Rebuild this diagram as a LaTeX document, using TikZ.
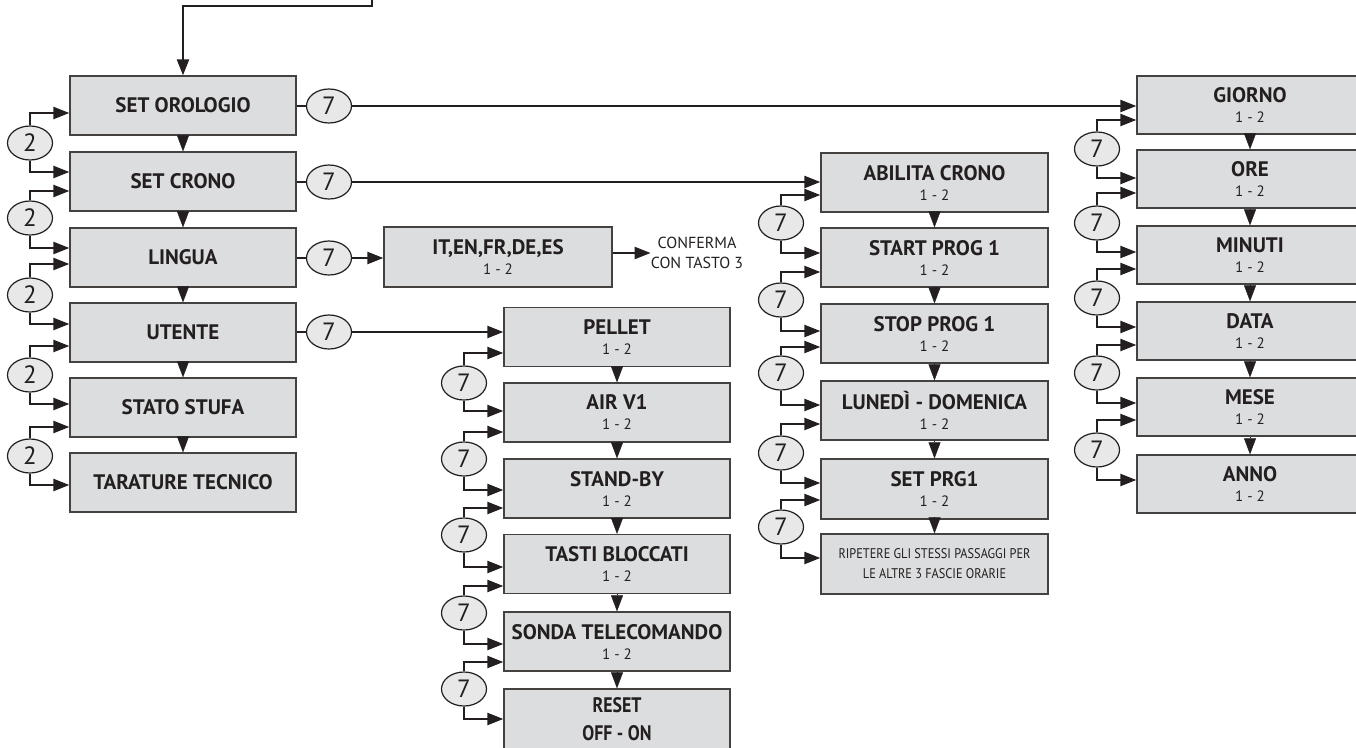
\documentclass[tikz,border=0pt]{standalone}
\usepackage{fontspec}
\usepackage{graphicx}
\setmainfont{PT Sans}
\usetikzlibrary{arrows.meta,shapes.geometric,calc}
\definecolor{ink}{HTML}{231F20}
\definecolor{boxfill}{HTML}{DCDDDE}
\definecolor{ovfill}{HTML}{E8E8E9}
\tikzset{
  box/.style={draw=ink!85, line width=1.3pt, fill=boxfill, minimum width=226pt,
    minimum height=59pt, inner sep=0pt, align=center, text=ink,
    font=\fontsize{15}{20}\selectfont},
  key/.style={ellipse, draw=ink, line width=1.2pt, fill=ovfill, minimum width=45pt,
    minimum height=34pt, inner sep=0pt, text=ink, font=\fontsize{25}{25}\selectfont},
  arr/.style={draw=ink, line width=2.3pt, -{Triangle[length=16pt,width=12pt]}},
  ln/.style={draw=ink, line width=2.3pt},
  downtri/.style={draw=ink, line width=0.4pt, -{Triangle[length=16pt,width=12pt]}},
}
\newcommand\ttl[1]{{\fontsize{21}{24}\selectfont\bfseries #1}}
\newcommand\two[1]{\ttl{#1}\\1 - 2}
\newcommand\keyloop[8]{%
  \node[key] (#1) at (#3,#5) {#2};
  \draw[arr] (#1.north) |- (#7.west |- 0,#4);
  \draw[arr] (#1.south) |- (#8.west |- 0,#6);
}
\begin{document}
\begin{tikzpicture}[x=1pt,y=-1pt]
\useasboundingbox (0,0) rectangle (1356,747);
\clip (0,0) rectangle (1356,747);

% ---- left column
\node[box] (L1) at (183,105.5) {\ttl{SET OROLOGIO}};
\node[box] (L2) at (183,181.5) {\ttl{SET CRONO}};
\node[box] (L3) at (183,257.5) {\ttl{LINGUA}};
\node[box] (L4) at (183,332.5) {\ttl{UTENTE}};
\node[box] (L5) at (183,407.5) {\ttl{STATO STUFA}};
\node[box] (L6) at (183,482.5) {\ttl{TARATURE TECNICO}};
\foreach \a/\b in {L1/L2,L2/L3,L3/L4,L4/L5,L5/L6} \draw[downtri] (\a.south) -- (\b.north);

\coordinate (start) at (372,-2);
\coordinate (bend) at (372,6);
\draw[arr] (start) -- (bend) -| (L1.north);

\keyloop{l1}{2}{30}{113}{143}{172}{L1}{L2}
\keyloop{l2}{2}{30}{191}{218}{248}{L2}{L3}
\keyloop{l3}{2}{30}{264}{295}{324}{L3}{L4}
\keyloop{l4}{2}{30}{346}{375}{404}{L4}{L5}
\keyloop{l5}{2}{30}{427}{456}{485}{L5}{L6}

\node[key] (k1) at (329,106) {7};
\node[key] (k2) at (329,182) {7};
\node[key] (k3) at (329,258) {7};
\node[key] (k4) at (329,332) {7};
\foreach \b/\k in {L1/k1,L2/k2,L3/k3,L4/k4} \draw[ln] (\b.east |- \k.west) -- (\k.west);

% ---- language
\node[box, minimum width=228pt, minimum height=60pt] (IT) at (498,257) {\two{IT,EN,FR,DE,ES}};
\node[align=center, text=ink, inner sep=0pt, font=\fontsize{16}{20}\selectfont] (conf) at (697,253) {CONFERMA\\CON TASTO 3};
\draw[arr] (k3.east) -- (k3.east -| IT.west);
\draw[arr] (IT.east |- conf.west) -- (conf.west);

% ---- utente column
\node[box] (P1) at (617,337) {\two{PELLET}};
\node[box] (P2) at (617,412.5) {\two{AIR V1}};
\node[box] (P3) at (617,488.5) {\two{STAND-BY}};
\node[box] (P4) at (617,564) {\two{TASTI BLOCCATI}};
\node[box] (P5) at (617,641.5) {\two{SONDA TELECOMANDO}};
\node[box, minimum height=60pt, font=\fontsize{21}{28}\selectfont\bfseries] (P6) at (617,719) {\scalebox{0.85}[1]{RESET}\\\scalebox{0.85}[1]{OFF - ON}};
\foreach \a/\b in {P1/P2,P2/P3,P3/P4,P4/P5,P5/P6} \draw[downtri] (\a.south) -- (\b.north);
\draw[arr] (k4.east) -- (k4.east -| P1.west);
\keyloop{p1}{7}{464}{353}{383}{411}{P1}{P2}
\keyloop{p2}{7}{464}{432}{459}{490}{P2}{P3}
\keyloop{p3}{7}{464}{508}{535}{567}{P3}{P4}
\keyloop{p4}{7}{464}{586}{613}{644}{P4}{P5}
\keyloop{p5}{7}{464}{662}{689}{719}{P5}{P6}

% ---- crono column
\node[box, minimum width=227pt] (A1) at (934.5,182.5) {\two{ABILITA CRONO}};
\node[box, minimum width=227pt] (A2) at (934.5,257.5) {\two{START PROG 1}};
\node[box, minimum width=227pt] (A3) at (934.5,333.5) {\two{STOP PROG 1}};
\node[box, minimum width=227pt] (A4) at (934.5,410.5) {\two{LUNEDÌ - DOMENICA}};
\node[box, minimum width=227pt, minimum height=60pt] (A5) at (934.5,489) {\two{SET PRG1}};
\node[box, minimum width=227pt, minimum height=60pt, font=\fontsize{14}{20}\selectfont] (A6) at (934.5,564) {\scalebox{0.88}[1]{RIPETERE GLI STESSI PASSAGGI PER}\\\scalebox{0.88}[1]{LE ALTRE 3 FASCIE ORARIE}};
\foreach \a/\b in {A1/A2,A2/A3,A3/A4,A4/A5,A5/A6} \draw[downtri] (\a.south) -- (\b.north);
\draw[arr] (k2.east) -- (k2.east -| A1.west);
\keyloop{a1}{7}{781}{195}{223}{253}{A1}{A2}
\keyloop{a2}{7}{781}{272}{300}{331}{A2}{A3}
\keyloop{a3}{7}{781}{347}{373}{405}{A3}{A4}
\keyloop{a4}{7}{781}{424}{453}{483}{A4}{A5}
\keyloop{a5}{7}{781}{500}{527}{558}{A5}{A6}

% ---- orologio column
\node[box, minimum height=58pt] (G1) at (1250,105) {\two{GIORNO}};
\node[box, minimum height=58pt] (G2) at (1250,179) {\two{ORE}};
\node[box, minimum height=58pt] (G3) at (1250,255) {\two{MINUTI}};
\node[box, minimum height=58pt] (G4) at (1250,331) {\two{DATA}};
\node[box, minimum height=58pt] (G5) at (1250,407) {\two{MESE}};
\node[box, minimum height=58pt] (G6) at (1250,484) {\two{ANNO}};
\foreach \a/\b in {G1/G2,G2/G3,G3/G4,G4/G5,G5/G6} \draw[downtri] (\a.south) -- (\b.north);
\draw[arr] (k1.east) -- (k1.east -| G1.west);
\keyloop{g1}{7}{1097}{120}{149}{178}{G1}{G2}
\keyloop{g2}{7}{1097}{193}{223}{252}{G2}{G3}
\keyloop{g3}{7}{1097}{269}{298}{327}{G3}{G4}
\keyloop{g4}{7}{1097}{345}{373}{403}{G4}{G5}
\keyloop{g5}{7}{1097}{420}{450}{480}{G5}{G6}
\end{tikzpicture}
\end{document}
